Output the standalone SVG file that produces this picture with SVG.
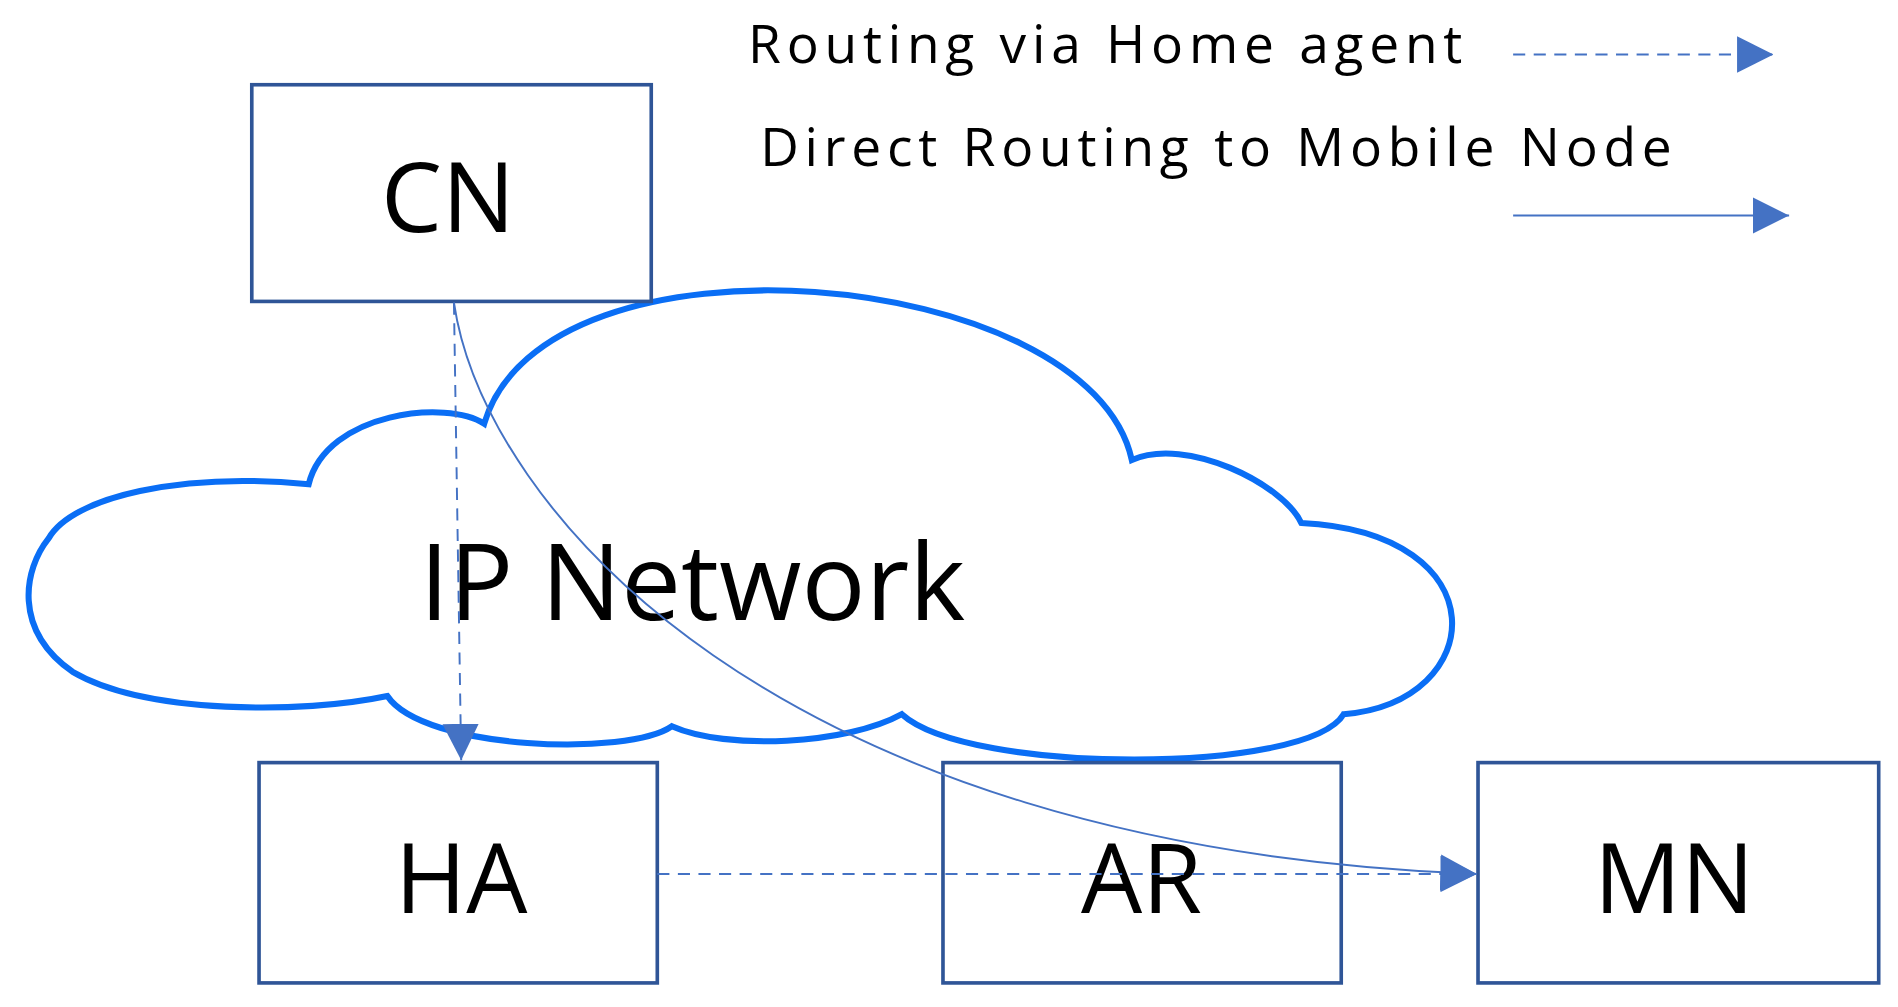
<svg xmlns="http://www.w3.org/2000/svg" width="1898" height="1007" viewBox="0 0 1898 1007">
<style>
.box{fill:#fff;stroke:#2f5597;stroke-width:3}
.lbl{font-family:"Open Sans","DejaVu Sans",sans-serif;fill:#000;text-anchor:middle}
.leg{font-family:"Open Sans","DejaVu Sans",sans-serif;fill:#000;font-size:44px}
.c{fill:none;stroke:#4472c4;stroke-width:1.6}
.d{stroke-dasharray:10,7}
</style>
<defs>
<marker id="ah" viewBox="0 0 10 10" refX="10" refY="5" markerWidth="7" markerHeight="7" markerUnits="userSpaceOnUse" orient="auto">
<path d="M0,0L10,5L0,10Z" fill="#4472c4"/>
</marker>
<marker id="ahb" viewBox="0 0 10 10" refX="10" refY="5" markerWidth="30" markerHeight="30" markerUnits="userSpaceOnUse" orient="auto">
<path d="M0,0L10,5L0,10Z" fill="#4472c4"/>
</marker>
</defs>
<rect width="1898" height="1007" fill="#fff"/>
<g transform="scale(1.2105)">
<g id="cloud">
<path d="M40,445 C20,470 10,520 60,555 C120,590 250,590 320,575 C350,620 520,625 555,600 C600,620 700,615 745,590 C800,640 1080,640 1110,590 C1230,580 1240,440 1075,432 C1060,400 980,360 935,380 C900,220 450,180 400,350 C370,330 270,340 255,400 C150,390 60,410 40,445 Z" fill="#fff" stroke="#0a6ef5" stroke-width="5"/>
<text class="lbl" x="572" y="512" font-size="88">IP Network</text>
</g>
<g id="CN"><rect class="box" x="208" y="70" width="330" height="179"/><text class="lbl" x="370" y="192" font-size="80">CN</text></g>
<g id="HA"><rect class="box" x="214" y="630" width="329" height="182"/><text class="lbl" x="381" y="754" font-size="80">HA</text></g>
<g id="AR"><rect class="box" x="779" y="630" width="329" height="182"/><text class="lbl" x="943" y="754" font-size="80">AR</text></g>
<g id="MN"><rect class="box" x="1221" y="630" width="331" height="182"/><text class="lbl" x="1383" y="754" font-size="80">MN</text></g>
<g id="legend">
<text class="leg" x="618" y="52" textLength="590">Routing via Home agent</text>
<text class="leg" x="628" y="137" textLength="753">Direct Routing to Mobile Node</text>
</g>
<g id="connectors">
<path class="c d" d="M1250,45 H1465" marker-end="url(#ahb)"/>
<path class="c" d="M1250,178 H1478" marker-end="url(#ahb)"/>
<path class="c d" d="M375,250 L381,628" marker-end="url(#ahb)"/>
<path class="c d" d="M543,722 H1220" marker-end="url(#ahb)"/>
<path class="c" d="M375,250 C400,420 640,700 1220,722" marker-end="url(#ahb)"/>
</g>
</g>
</svg>
